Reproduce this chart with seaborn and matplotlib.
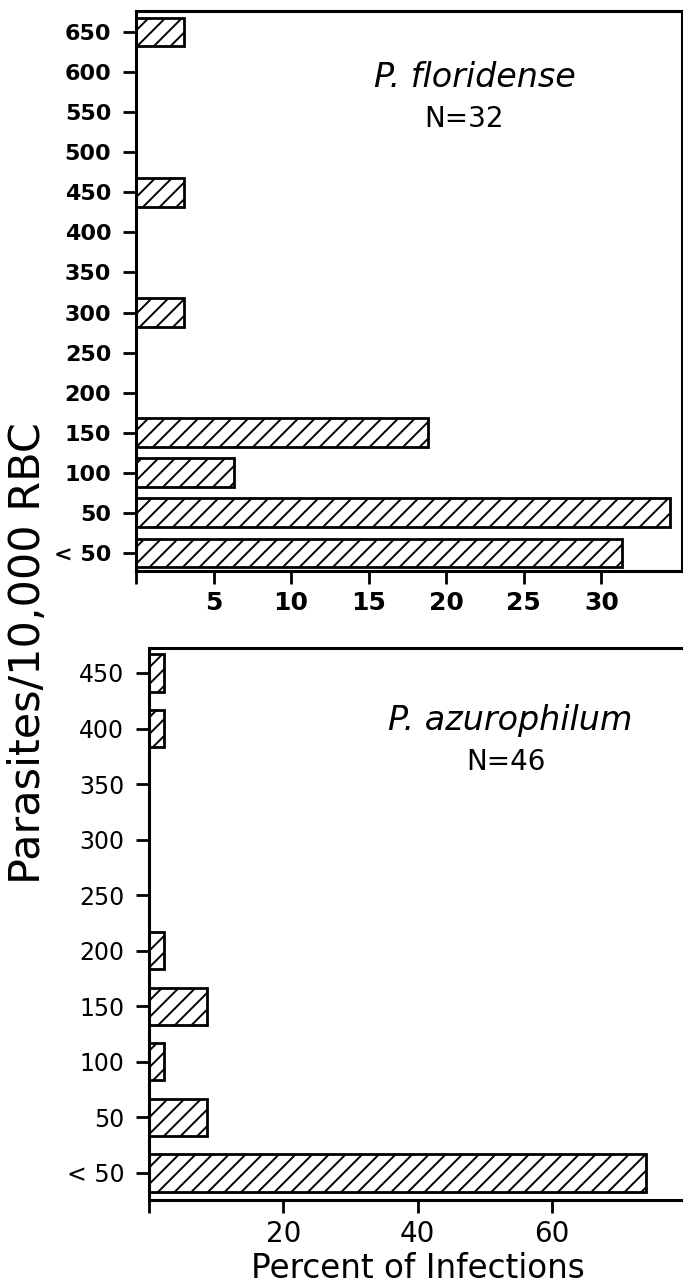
import matplotlib
matplotlib.use('Agg')
import matplotlib.pyplot as plt
import seaborn as sns
import pandas as pd

# ---- data (percent of infections) ----
top_cats = ['650', '600', '550', '500', '450', '400', '350', '300',
            '250', '200', '150', '100', '50', '< 50']
top_vals = [3.1, 0, 0, 0, 3.1, 0, 0, 3.1, 0, 0, 18.8, 6.3, 34.4, 31.3]
top_xticks = [0, 5, 10, 15, 20, 25, 30]
top_xticklabels = ['', '5', '10', '15', '20', '25', '30']

bot_cats = ['450', '400', '350', '300', '250', '200', '150', '100', '50', '< 50']
bot_vals = [2.2, 2.2, 0, 0, 0, 2.2, 8.7, 2.2, 8.7, 73.9]
bot_xticks = [0, 20, 40, 60]
bot_xticklabels = ['', '20', '40', '60']

top_title = 'P. floridense'
top_n = 'N=32'
bot_title = 'P. azurophilum'
bot_n = 'N=46'
ylabel = 'Parasites/10,000 RBC'
xlabel = 'Percent of Infections'

sns.set_theme(style='white')
plt.rcParams['font.family'] = ['DejaVu Sans']
plt.rcParams['text.color'] = 'black'
plt.rcParams['hatch.linewidth'] = 1.4
plt.rcParams['hatch.color'] = 'black'

W, H = 683, 1283
fig = plt.figure(figsize=(W / 100, H / 100), dpi=100)


def fx(px):
    return px / W


def fy(py):
    return 1 - py / H


ax1 = fig.add_axes([fx(136), fy(571), fx(682 - 136), (571 - 11) / H])
ax2 = fig.add_axes([fx(149), fy(1200), fx(700 - 149), (1200 - 648) / H])

df1 = pd.DataFrame({'cat': top_cats, 'val': top_vals})
df2 = pd.DataFrame({'cat': bot_cats, 'val': bot_vals})

for ax, df, w in ((ax1, df1, 0.72), (ax2, df2, 0.67)):
    sns.barplot(data=df, x='val', y='cat', orient='h', ax=ax, color='white',
                saturation=1, edgecolor='black', linewidth=2.0, hatch='//',
                width=w)
    ax.set_xlabel('')
    ax.set_ylabel('')
    for s in ax.spines.values():
        s.set_linewidth(2.2)
        s.set_color('black')
    ax.tick_params(axis='both', direction='out', length=9.3, width=2.0,
                   color='black', left=True, bottom=True, labelcolor='black')

# top panel
ax1.set_xlim(0, 35.2)
ax1.set_ylim(13.45, -0.524)
ax1.set_xticks(top_xticks)
ax1.set_xticklabels(top_xticklabels)
ax1.tick_params(axis='y', labelsize=16, pad=8.5)
ax1.tick_params(axis='x', labelsize=18, pad=5)
for lab in ax1.get_yticklabels() + ax1.get_xticklabels():
    lab.set_fontweight('bold')
ax1.text(fx(475), fy(87), top_title, transform=fig.transFigure, ha='center',
         va='baseline', fontsize=24, style='italic')
ax1.text(fx(464), fy(127), top_n, transform=fig.transFigure, ha='center',
         va='baseline', fontsize=20)

# bottom panel
ax2.set_xlim(0, 82)
ax2.set_ylim(9.486, -0.45)
ax2.spines['right'].set_visible(False)
ax2.set_xticks(bot_xticks)
ax2.set_xticklabels(bot_xticklabels)
ax2.tick_params(axis='y', labelsize=17, pad=8.5)
ax2.tick_params(axis='x', labelsize=20, pad=5)
ax2.text(fx(510), fy(730), bot_title, transform=fig.transFigure, ha='center',
         va='baseline', fontsize=24, style='italic')
ax2.text(fx(506), fy(770), bot_n, transform=fig.transFigure, ha='center',
         va='baseline', fontsize=20)

fig.text(fx(418), fy(1278), xlabel, ha='center', va='baseline', fontsize=23.5)
fig.text(fx(40), fy(653), ylabel, rotation=90, rotation_mode='anchor',
         ha='center', va='baseline', fontsize=31)

fig.savefig('out.png', dpi=100)
